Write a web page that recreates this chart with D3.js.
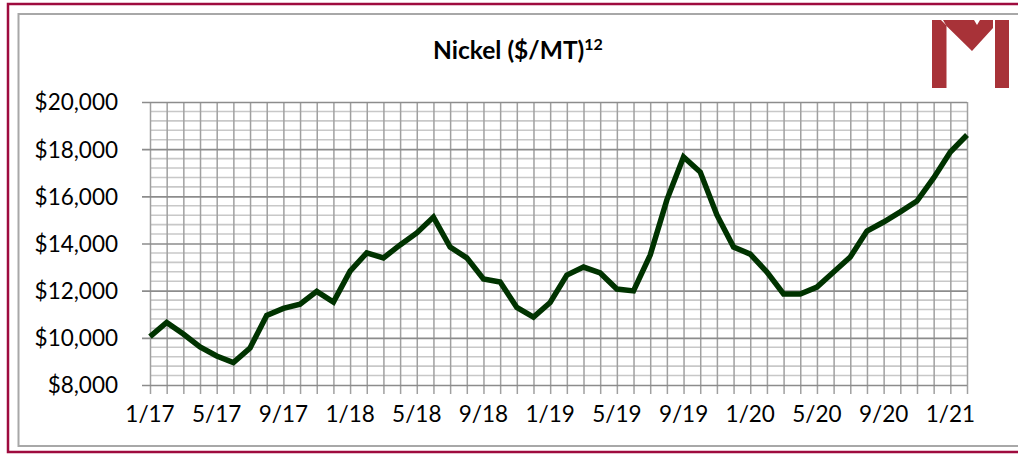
<!DOCTYPE html>
<html><head><meta charset="utf-8">
<script src="https://cdn.jsdelivr.net/npm/d3@7"></script>
<style>html,body{margin:0;padding:0;background:#fff;}svg{display:block;}</style>
</head><body>
<svg id="c" width="1018" height="456"></svg>
<script>
const months = ["1/17","2/17","3/17","4/17","5/17","6/17","7/17","8/17","9/17","10/17","11/17","12/17",
"1/18","2/18","3/18","4/18","5/18","6/18","7/18","8/18","9/18","10/18","11/18","12/18",
"1/19","2/19","3/19","4/19","5/19","6/19","7/19","8/19","9/19","10/19","11/19","12/19",
"1/20","2/20","3/20","4/20","5/20","6/20","7/20","8/20","9/20","10/20","11/20","12/20",
"1/21","2/21"];
const nickel = [10050,10650,10160,9610,9230,8950,9570,10950,11250,11430,11970,11520,
12830,13600,13390,13940,14450,15120,13850,13390,12500,12370,11290,10880,
11500,12660,13000,12750,12070,11990,13510,15850,17670,17030,15210,13850,
13550,12790,11860,11860,12150,12790,13430,14530,14910,15340,15800,16780,
17880,18600];
const xLabels = ["1/17","5/17","9/17","1/18","5/18","9/18","1/19","5/19","9/19","1/20","5/20","9/20","1/21"];
const yTicks = [8000,10000,12000,14000,16000,18000,20000];
const yMinor = d3.range(8000, 20001, 400);

const svg = d3.select("#c");
const font = "Lato, 'Open Sans', sans-serif";
const L = 150, R = 967, T = 102, B = 385;
const x = d3.scalePoint().domain(months).range([L, R]).padding(0);
const y = d3.scaleLinear().domain([8000, 20000]).range([B, T]);

// borders
svg.append("path").attr("d", "M1020,4 H8 V452 H1020").attr("fill","none").attr("stroke","#9e0b3e").attr("stroke-width",2.5);
svg.append("path").attr("d", "M1020,14 H18.5 V446 H1020").attr("fill","none").attr("stroke","#a8a8a8").attr("stroke-width",2);

// minor horizontal grid
svg.append("g").selectAll("line").data(yMinor.filter(v => v % 2000 !== 0)).join("line")
  .attr("x1", L).attr("x2", R).attr("y1", d => y(d)).attr("y2", d => y(d))
  .attr("stroke", "#c8c8c8").attr("stroke-width", 1.6);

// vertical grid + ticks via axis
const xAxis = d3.axisBottom(x).tickSizeInner(-(B - T) ).tickSizeOuter(0).tickFormat("");
const gx = svg.append("g").attr("transform", `translate(0,${B})`).call(xAxis);
gx.select(".domain").remove();
gx.selectAll(".tick line").attr("stroke", "#a0a0a0").attr("stroke-width", 1.5).attr("y1", 9);

// major horizontal grid with left ticks
const yAxis = d3.axisLeft(y).tickValues(yTicks).tickSizeInner(-(R - L)).tickSizeOuter(0)
  .tickFormat(d => "$" + d3.format(",")(d)).tickPadding(0);
const gy = svg.append("g").attr("transform", `translate(${L},0)`).call(yAxis);
gy.select(".domain").remove();
gy.selectAll(".tick line").attr("stroke", "#8c8c8c").attr("stroke-width", 1.6).attr("x1", -8);
gy.selectAll(".tick text").attr("x", -32).attr("dy", "0.35em")
  .attr("font-family", font).attr("font-size", 22.5).attr("fill", "#000");

// x labels
svg.append("g").selectAll("text").data(xLabels).join("text")
  .attr("x", d => x(d)).attr("y", 422).attr("text-anchor", "middle")
  .attr("font-family", font).attr("font-size", 22.5).attr("fill", "#000").text(d => d);

// line
const line = d3.line().x((d, i) => x(months[i])).y(d => y(d));
svg.append("path").datum(nickel).attr("d", line).attr("fill", "none")
  .attr("stroke", "#003300").attr("stroke-width", 5.5).attr("stroke-linejoin", "miter").attr("stroke-linecap","butt");

// title
const title = svg.append("text").attr("x", 518).attr("y", 59).attr("text-anchor", "middle")
  .attr("font-family", font).attr("font-weight", "bold").attr("font-size", 24.5).attr("fill", "#000");
title.append("tspan").text("Nickel ($/MT)");
title.append("tspan").attr("font-size", 16).attr("dy", -9).text("12");

// logo
const lg = svg.append("g").attr("fill", "#a83238");
lg.append("polygon").attr("points", "932,20 941,20 946.5,25.5 946.5,88 932,88");
lg.append("polygon").attr("points", "943,20 974,20 977,25 980,20 993,20 993,28 972,51 946.5,26");
lg.append("rect").attr("x", 995).attr("y", 20).attr("width", 14).attr("height", 68);
</script>
</body></html>
